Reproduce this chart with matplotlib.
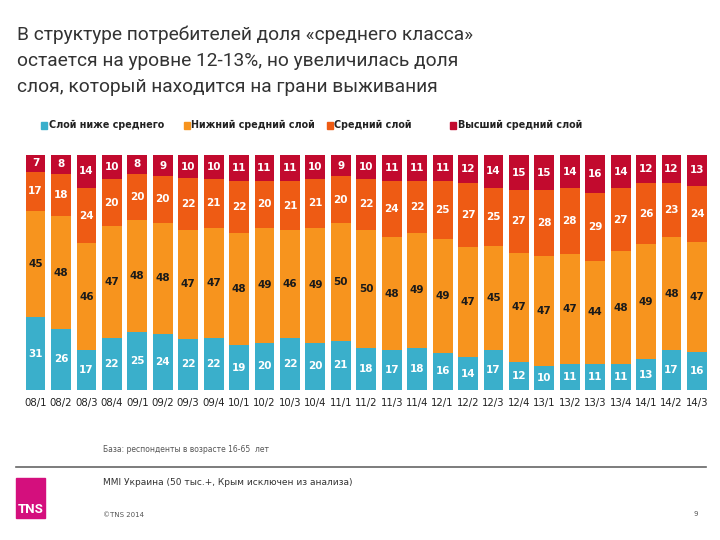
#!/usr/bin/env python3
# coding=utf-8

import numpy as np
import matplotlib
matplotlib.use('Agg')
import matplotlib.pyplot as plt
from matplotlib.patches import Rectangle
from matplotlib.lines import Line2D

plt.rcParams['font.family'] = ['DejaVu Sans']

periods = ['08/1', '08/2', '08/3', '08/4', '09/1', '09/2', '09/3', '09/4',
           '10/1', '10/2', '10/3', '10/4', '11/1', '11/2', '11/3', '11/4',
           '12/1', '12/2', '12/3', '12/4', '13/1', '13/2', '13/3', '13/4',
           '14/1', '14/2', '14/3']

below_mid = [31, 26, 17, 22, 25, 24, 22, 22, 19, 20, 22, 20, 21, 18, 17, 18,
             16, 14, 17, 12, 10, 11, 11, 11, 13, 17, 16]
lower_mid = [45, 48, 46, 47, 48, 48, 47, 47, 48, 49, 46, 49, 50, 50, 48, 49,
             49, 47, 45, 47, 47, 47, 44, 48, 49, 48, 47]
mid = [17, 18, 24, 20, 20, 20, 22, 21, 22, 20, 21, 21, 20, 22, 24, 22,
       25, 27, 25, 27, 28, 28, 29, 27, 26, 23, 24]
upper_mid = [7, 8, 14, 10, 8, 9, 10, 10, 11, 11, 11, 10, 9, 10, 11, 11,
             11, 12, 14, 15, 15, 14, 16, 14, 12, 12, 13]

series_names = ['Слой ниже среднего', 'Нижний средний слой',
                'Средний слой', 'Высший средний слой']
colors = ['#3AAFCB', '#F7941E', '#EE5B14', '#C20A2E']
text_colors = ['white', '#1a1a1a', 'white', 'white']

title = ('В структуре потребителей доля «среднего класса»\n'
         'остается на уровне 12-13%, но увеличилась доля\n'
         'слоя, который находится на грани выживания')

data = np.array([below_mid, lower_mid, mid, upper_mid], dtype=float)
totals = data.sum(axis=0)
shares = data / totals * 100  # bars are drawn as 100% stacked

fig = plt.figure(figsize=(7.2, 5.4), dpi=100)
ax = fig.add_axes([0.0317, 0.2778, 0.954, 0.435])

x = np.arange(len(periods))
bottom = np.zeros(len(periods))
for i in range(4):
    ax.bar(x, shares[i], bottom=bottom, width=0.78, color=colors[i],
           linewidth=0, zorder=2)
    for j in range(len(periods)):
        ax.text(x[j], bottom[j] + shares[i][j] / 2, '%d' % data[i][j],
                ha='center', va='center', fontsize=7.5, fontweight='bold',
                color=text_colors[i], zorder=3)
    bottom += shares[i]

ax.set_xlim(-0.5, len(periods) - 0.5)
ax.set_ylim(0, 100)
ax.set_xticks(x)
ax.set_xticklabels(periods, fontsize=7.3, color='#222222')
ax.tick_params(axis='x', length=0, pad=6)
ax.set_yticks([])
for s in ax.spines.values():
    s.set_visible(False)

# legend, entries placed one by one like in the slide
leg_x = [0.057, 0.255, 0.454, 0.625]
for i in range(4):
    fig.add_artist(Rectangle((leg_x[i], 0.762), 0.0085, 0.012, color=colors[i],
                             transform=fig.transFigure))
    fig.text(leg_x[i] + 0.0105, 0.768, series_names[i], fontsize=6.9,
             fontweight='bold', color='#222222', va='center')

# title
fig.text(0.024, 0.953, title, ha='left', va='top', fontsize=13.8,
         color='#333333', linespacing=1.58, family=['Roboto', 'DejaVu Sans'])

# footer
fig.text(0.143, 0.167, 'База: респонденты в возрасте 16-65  лет',
         fontsize=5.5, color='#555555', va='center')
fig.add_artist(Line2D([0.022, 0.98], [0.136, 0.136], color='#666666',
                      linewidth=1.2))
fig.text(0.143, 0.107, 'MMI Украина (50 тыс.+, Крым исключен из анализа)',
         fontsize=6.5, color='#333333', va='center')
fig.text(0.143, 0.046, '©TNS 2014', fontsize=5, color='#555555', va='center')
fig.text(0.963, 0.049, '9', fontsize=5, color='#555555', va='center')
fig.add_artist(Rectangle((0.022, 0.041), 0.041, 0.074, color='#D40F7D',
                         transform=fig.transFigure))
fig.text(0.0425, 0.057, 'TNS', fontsize=9.5, color='white', fontweight='bold',
         ha='center', va='center', family=['Roboto', 'DejaVu Sans'])

fig.savefig('out.png', dpi=100)
